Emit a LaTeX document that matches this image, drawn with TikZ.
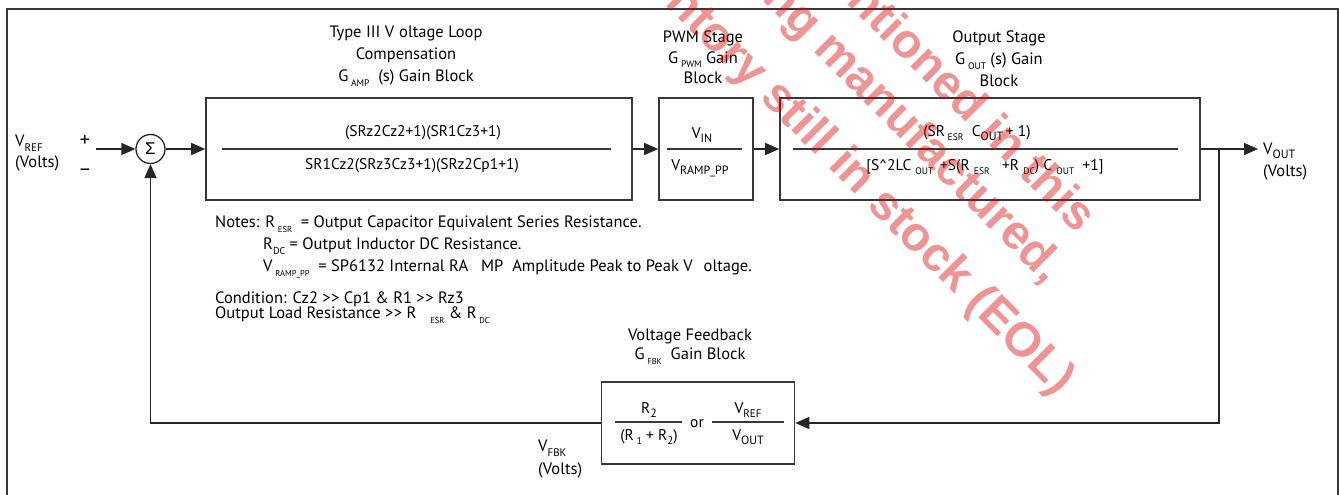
\documentclass[tikz,border=0pt]{standalone}
\usepackage{fontspec}
\setmainfont{PT Sans}
\newfontfamily\wmfont{Liberation Sans}
\usetikzlibrary{positioning,arrows.meta}

% lowered subscript with its own size
\newcommand{\lo}[2][9.5]{\raisebox{-0.55ex}{\fontsize{#1}{#1}\selectfont #2}}
\newcommand{\much}{>\kern0.5pt>}

\begin{document}
\begin{tikzpicture}[x=1pt,y=-1pt,
  line/.style={draw=black!78,line width=1.4pt},
  blockbox/.style={draw=black!78,line width=1.6pt,inner sep=0pt},
  lbl/.style={font=\fontsize{16.5}{22}\selectfont,align=center,inner sep=0pt},
  frac/.style={font=\fontsize{15.5}{18}\selectfont,inner sep=0pt},
  note/.style={font=\fontsize{16.5}{18}\selectfont,anchor=west,inner sep=0pt},
  sig/.style={-{Triangle[length=14pt,width=12pt]},draw=black!85,line width=1.4pt},
  wm/.style={font=\wmfont\bfseries\fontsize{48}{48}\selectfont,text=red!85!black,
    opacity=0.42,rotate=-45,inner sep=0pt}]

\useasboundingbox (0,0) rectangle (1339,495);

% Outer frame
\draw[line] (7,495) -- (7,9) -- (1338,9) -- (1338,495);

% Summing junction and gain blocks
\node[circle,draw=black!85,line width=1.3pt,minimum size=29pt,inner sep=0pt,
  font=\wmfont\fontsize{17}{17}\selectfont] (sum) at (150.5,149) {Σ};
\node[blockbox,minimum width=426pt,minimum height=102pt] (amp) at (419,149) {};
\node[blockbox,minimum width=94pt,minimum height=102pt] (pwm) at (706,149) {};
\node[blockbox,minimum width=420pt,minimum height=102pt] (out) at (990,149) {};
\node[blockbox,minimum width=193pt,minimum height=82pt] (fbk) at (698,423) {};

% Block titles
\node[lbl] (amptitle) at (406,56) {Type III V\hspace{5pt}oltage Loop\\Compensation\\G\,\lo{AMP}\ \ (s) Gain Block};
\node[lbl,font=\fontsize{16.5}{20.5}\selectfont] (pwmtitle) at (703,57.5) {PWM Stage\\G\,\lo{PWM}\ Gain\\Block};
\node[lbl] (outtitle) at (999,59) {Output Stage\\G\,\lo{OUT}\ (s) Gain\\Block};
\node[lbl,font=\fontsize{16.5}{19}\selectfont] (fbktitle) at (690,347) {Voltage Feedback\\G\,\lo[8.5]{FBK}\ \ Gain Block};

% Transfer functions
\draw[line] (222,149) -- (611,149);
\node[frac] (ampnum) at (423,133) {(SRz2Cz2+1)(SR1Cz3+1)};
\node[frac] (ampden) at (412,166) {SR1Cz2(SRz3Cz3+1)(SRz2Cp1+1)};

\draw[line] (667,149) -- (742,149);
\node[frac] (pwmnum) at (702,135) {V\lo[12]{IN}};
\node[frac] (pwmden) at (700,168) {V\lo[12]{RAMP\_PP}};

\draw[line] (793,149) -- (1178,149);
\node[frac] (outnum) at (977,133) {(SR\,\lo{ESR}\ \ C\lo[12]{OUT}\,+ 1)};
\node[frac] (outden) at (985,167) {[S\textasciicircum 2LC\ \lo{OUT}\ \,+S(R\ \lo{ESR}\ \ \ +R\ \lo{DC}) C\ \lo{OUT}\ \ +1]};

\draw[line] (615,422) -- (682,422);
\node[frac] (fbknum) at (649,410) {R\lo[12]{2}};
\node[frac] (fbkden) at (649,437) {(R\,\lo[10]{1} + R\lo[11]{2})};
\node[frac] (fbkor) at (697,424) {or};
\draw[line] (712,422) -- (784,422);
\node[frac] (fbknum2) at (748,410) {V\lo[11]{REF}};
\node[frac] (fbkden2) at (748,437) {V\lo[12]{OUT}};

% Signal labels
\node[note] (vref) at (15,143) {V\lo[11]{REF}};
\node[note] (vrefunit) at (15,163) {(Volts)};
\node[lbl,font=\fontsize{20}{20}\selectfont] (plus) at (85,141) {+};
\node[lbl,font=\fontsize{20}{20}\selectfont] (minus) at (85,172) {–};
\node[note] (vout) at (1263,151) {V\lo[12]{OUT}};
\node[note] (voutunit) at (1263,172) {(Volts)};
\node[note] (vfbk) at (538,448) {V\lo[11]{FBK}};
\node[note] (vfbkunit) at (538,470) {(Volts)};

% Notes
\node[note] (note1) at (215,224) {Notes: R\,\lo[8.5]{ESR}\ \ = Output Capacitor Equivalent Series Resistance.};
\node[note] (note2) at (263,246) {R\lo[10]{DC} = Output Inductor DC Resistance.};
\node[note] (note3) at (263,269) {V\,\lo[8.5]{RAMP\_PP}\ \ = SP6132 Internal RA\hspace{13pt}MP\ \ Amplitude Peak to Peak V\hspace{11pt}oltage.};
\node[note] (cond1) at (215,299) {Condition: Cz2 \much{} Cp1 \& R1 \much{} Rz3};
\node[note] (cond2) at (215,315) {Output Load Resistance \much{} R\hspace{14pt}\lo[8.5]{ESR}\ \& R\,\lo[8.5]{DC}};

% Connectors
\coordinate (in) at (96,149);
\coordinate (tap) at (1219,149);
\coordinate (outend) at (1258,149);
\draw[sig] (in) -- (sum);
\draw[sig] (sum) -- (amp);
\draw[sig] (amp) -- (pwm);
\draw[sig] (pwm) -- (out);
\draw[sig] (out.east) -- (outend);
\draw[sig] (tap) |- (fbk.east);
\draw[sig] (fbk.west) -| (sum.south);

% Watermark
\begin{scope}
\clip (0,0) rectangle (1339,495);
\node[wm,anchor=east] (wm1) at (1090,222) {mentioned in this};
\node[wm,anchor=east] (wm2) at (1055,276) {being manufactured,};
\node[wm,anchor=east] (wm3) at (1066,388) {inventory still in stock (EOL)};
\end{scope}

\end{tikzpicture}
\end{document}
